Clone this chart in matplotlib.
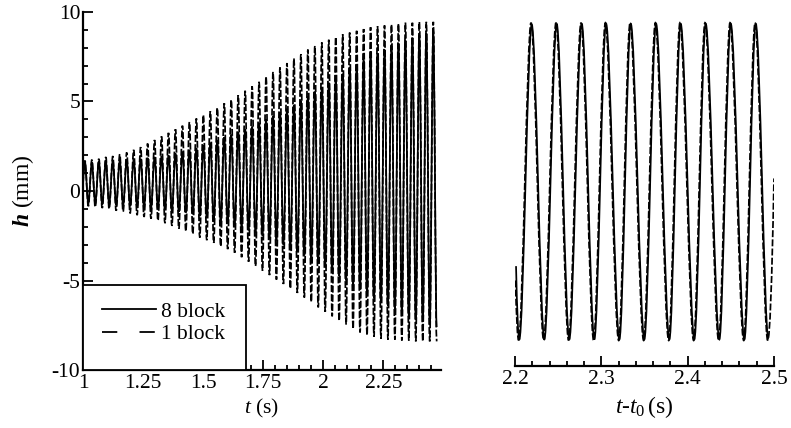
import matplotlib
matplotlib.use("Agg")
import matplotlib.pyplot as plt
from matplotlib.lines import Line2D
from matplotlib.patches import Rectangle, PathPatch
from matplotlib.path import Path
from matplotlib.ticker import MultipleLocator

plt.rcParams['font.family'] = 'Liberation Serif'
plt.rcParams['mathtext.fontset'] = 'custom'
plt.rcParams['mathtext.rm'] = 'Liberation Serif'
plt.rcParams['mathtext.it'] = 'Liberation Serif:italic'
plt.rcParams['mathtext.bf'] = 'Liberation Serif:bold:italic'
plt.rcParams['lines.scale_dashes'] = False

# ---- left panel: extrema of each cycle ----
t_peak = [1.008, 1.037, 1.066, 1.095, 1.124, 1.153, 1.182, 1.211, 1.240, 1.269,
          1.298, 1.327, 1.356, 1.385, 1.414, 1.443, 1.472, 1.501, 1.530, 1.559,
          1.588, 1.617, 1.646, 1.675, 1.704, 1.733, 1.762, 1.791, 1.820, 1.849,
          1.878, 1.907, 1.936, 1.965, 1.994, 2.023, 2.052, 2.081, 2.110, 2.139,
          2.168, 2.197, 2.226, 2.255, 2.284, 2.313, 2.342, 2.371, 2.400, 2.429,
          2.458]
t_trough = [1.022, 1.051, 1.080, 1.109, 1.138, 1.167, 1.196, 1.225, 1.254, 1.283,
            1.312, 1.341, 1.370, 1.399, 1.428, 1.457, 1.486, 1.515, 1.544, 1.573,
            1.602, 1.631, 1.660, 1.689, 1.718, 1.747, 1.776, 1.805, 1.834, 1.863,
            1.892, 1.921, 1.950, 1.979, 2.008, 2.037, 2.066, 2.095, 2.124, 2.153,
            2.182, 2.211, 2.240, 2.269, 2.298, 2.327, 2.356, 2.385, 2.414, 2.443,
            2.472]

one_hi = [1.70, 1.75, 1.80, 1.90, 1.95, 2.05, 2.15, 2.30, 2.45, 2.65,
          2.85, 3.05, 3.25, 3.45, 3.65, 3.85, 4.05, 4.25, 4.45, 4.65,
          4.90, 5.10, 5.35, 5.60, 5.85, 6.10, 6.40, 6.65, 6.90, 7.15,
          7.40, 7.65, 7.90, 8.10, 8.30, 8.45, 8.60, 8.75, 8.85, 8.95,
          9.05, 9.15, 9.20, 9.25, 9.30, 9.35, 9.40, 9.40, 9.45, 9.45,
          9.45]
one_lo = [-0.85, -0.90, -0.95, -1.00, -1.10, -1.15, -1.25, -1.35, -1.45, -1.55,
          -1.65, -1.80, -1.95, -2.10, -2.25, -2.40, -2.60, -2.75, -2.90, -3.10,
          -3.25, -3.45, -3.70, -3.95, -4.20, -4.45, -4.70, -4.95, -5.20, -5.45,
          -5.70, -5.95, -6.20, -6.50, -6.75, -7.00, -7.25, -7.45, -7.70, -7.90,
          -8.05, -8.15, -8.25, -8.30, -8.30, -8.35, -8.35, -8.40, -8.40, -8.40,
          -8.40]
eight_hi = [1.60, 1.60, 1.65, 1.65, 1.70, 1.70, 1.75, 1.75, 1.80, 1.85,
            1.90, 1.95, 2.00, 2.10, 2.20, 2.30, 2.40, 2.55, 2.70, 2.85,
            3.00, 3.15, 3.30, 3.45, 3.60, 3.80, 4.00, 4.20, 4.40, 4.60,
            4.80, 5.05, 5.30, 5.55, 5.80, 6.05, 6.30, 6.55, 6.80, 7.05,
            7.30, 7.50, 7.70, 7.90, 8.10, 8.25, 8.40, 8.55, 8.70, 8.80,
            8.90]
eight_lo = [-0.70, -0.70, -0.75, -0.75, -0.80, -0.80, -0.85, -0.85, -0.90, -0.95,
            -1.00, -1.05, -1.10, -1.15, -1.20, -1.30, -1.40, -1.50, -1.60, -1.70,
            -1.80, -1.90, -2.05, -2.20, -2.35, -2.50, -2.65, -2.80, -3.00, -3.20,
            -3.40, -3.60, -3.80, -4.00, -4.25, -4.50, -4.75, -5.00, -5.25, -5.50,
            -5.75, -6.00, -6.20, -6.40, -6.60, -6.80, -7.00, -7.15, -7.30, -7.45,
            -7.60]

# ---- right panel: extrema vs t - t0 ----
r8_t = [2.2012, 2.2050, 2.2194, 2.2340, 2.2483, 2.2629, 2.2773, 2.2919, 2.3055,
        2.3209, 2.3341, 2.3498, 2.3634, 2.3788, 2.3919, 2.4077, 2.4209, 2.4367,
        2.4499, 2.4657, 2.4789, 2.4935]
r8_h = [-4.2, -8.3, 9.30, -8.3, 9.35, -8.3, 9.35, -8.3, 9.35, -8.3, 9.35,
        -8.3, 9.35, -8.3, 9.35, -8.3, 9.35, -8.3, 9.35, -8.3, 9.35, -8.3]
r1_t = [2.2005, 2.2042, 2.2186, 2.2332, 2.2475, 2.2621, 2.2765, 2.2911, 2.3047,
        2.3201, 2.3333, 2.3490, 2.3626, 2.3780, 2.3911, 2.4069, 2.4201, 2.4359,
        2.4491, 2.4649, 2.4781, 2.4927, 2.5000]
r1_h = [-5.0, -8.35, 9.4, -8.35, 9.4, -8.35, 9.4, -8.35, 9.4, -8.35, 9.4,
        -8.35, 9.4, -8.35, 9.4, -8.35, 9.4, -8.35, 9.4, -8.35, 9.4, -8.35, 0.7]


def zigzag(tp, hp, tt, ht):
    ts, hs = [], []
    for a, b, c, d in zip(tp, hp, tt, ht):
        ts += [a, c]
        hs += [b, d]
    return ts, hs


def wave_path(ts, hs, loose_start=False, loose_end=False):
    # rounded strokes between the extrema (Bezier handles, flat at each extremum)
    verts = [(ts[0], hs[0])]
    codes = [Path.MOVETO]
    n = len(ts) - 1
    for i in range(n):
        t0, t1, h0, h1 = ts[i], ts[i + 1], hs[i], hs[i + 1]
        d = t1 - t0
        if i == 0 and loose_start:
            verts += [(t0 + 0.5 * d, h1), (t1, h1)]
            codes += [Path.CURVE3] * 2
        elif i == n - 1 and loose_end:
            verts += [(t0 + 0.5 * d, h0), (t1, h1)]
            codes += [Path.CURVE3] * 2
        else:
            verts += [(t0 + 0.32 * d, h0), (t1 - 0.32 * d, h1), (t1, h1)]
            codes += [Path.CURVE4] * 3
    return Path(verts, codes)


fig = plt.figure(figsize=(7.91, 4.28), dpi=100)
W, H = 791, 428
ax1 = fig.add_axes([83 / W, 1 - 370 / H, 358 / W, 358 / H])
ax2 = fig.add_axes([515 / W, 1 - 366 / H, 259 / W, 354 / H])

lw = 1.25
dash = (0, (5, 1.6))

t8, h8 = zigzag(t_peak, eight_hi, t_trough, eight_lo)
t1, h1 = zigzag(t_peak, one_hi, t_trough, one_lo)
ax1.add_patch(PathPatch(wave_path([1.0] + t8, [0.3] + h8, loose_start=True),
                        fill=False, ec='black', lw=lw))
ax1.add_patch(PathPatch(wave_path([1.0] + t1, [0.4] + h1, loose_start=True),
                        fill=False, ec='black', lw=lw, ls=dash))

ax2.add_patch(PathPatch(wave_path(r8_t, r8_h, loose_start=True),
                        fill=False, ec='black', lw=lw))
ax2.add_patch(PathPatch(wave_path(r1_t, r1_h, loose_start=True, loose_end=True),
                        fill=False, ec='black', lw=lw, ls=dash))

for ax in (ax1, ax2):
    for s in ('top', 'right'):
        ax.spines[s].set_visible(False)
    for s in ('left', 'bottom'):
        ax.spines[s].set_linewidth(1.6)
    ax.tick_params(which='both', direction='in', width=1.3, labelsize=15.5,
                   top=False, right=False)
    ax.tick_params(which='major', length=7)
    ax.tick_params(which='minor', length=3.5)

ax1.set_xlim(1, 2.49)
ax1.set_ylim(-10, 10)
ax1.xaxis.set_minor_locator(MultipleLocator(0.05))
ax1.yaxis.set_minor_locator(MultipleLocator(1))
ax1.set_xticks([1, 1.25, 1.5, 1.75, 2, 2.25])
ax1.set_xticklabels(['1', '1.25', '1.5', '1.75', '2', '2.25'])
ax1.set_yticks([-10, -5, 0, 5, 10])
ax1.set_yticklabels(['-10', '-5', '0', '5', '10'])
ax1.tick_params(axis='x', pad=3)
ax1.tick_params(axis='y', pad=2)
ax1.set_xlabel(r'$t$ (s)', fontsize=15.5)
ax1.xaxis.set_label_coords(0.5, -0.075)
ax1.set_ylabel(r'$\mathbf{h}$ (mm)', fontsize=17)
ax1.yaxis.set_label_coords(-0.13, 0.5)

ax2.set_xlim(2.2, 2.5)
ax2.set_ylim(-9.78, 10)
ax2.spines['left'].set_visible(False)
ax2.set_yticks([])
ax2.xaxis.set_minor_locator(MultipleLocator(0.02))
ax2.set_xticks([2.2, 2.3, 2.4, 2.5])
ax2.set_xticklabels(['2.2', '2.3', '2.4', '2.5'])
ax2.tick_params(axis='x', pad=3)
ax2.set_xlabel(r'$t$-$t_{0}\,$(s)', fontsize=17)
ax2.xaxis.set_label_coords(0.5, -0.08)

ax1.add_patch(Rectangle((0, 0), 0.455, 0.237, transform=ax1.transAxes,
                        facecolor='white', edgecolor='black', lw=1.3, zorder=4))
handles = [Line2D([], [], color='black', lw=1.3),
           Line2D([], [], color='black', lw=1.3, dashes=(11, 16))]
leg = ax1.legend(handles, ['8 block', '1 block'], loc='center left',
                 bbox_to_anchor=(0.053, 0.131), frameon=False, fontsize=15.5,
                 borderpad=0, borderaxespad=0, handlelength=2.5,
                 handletextpad=0.25, labelspacing=0.1)
leg.set_zorder(5)

fig.savefig('out.png', dpi=100)
